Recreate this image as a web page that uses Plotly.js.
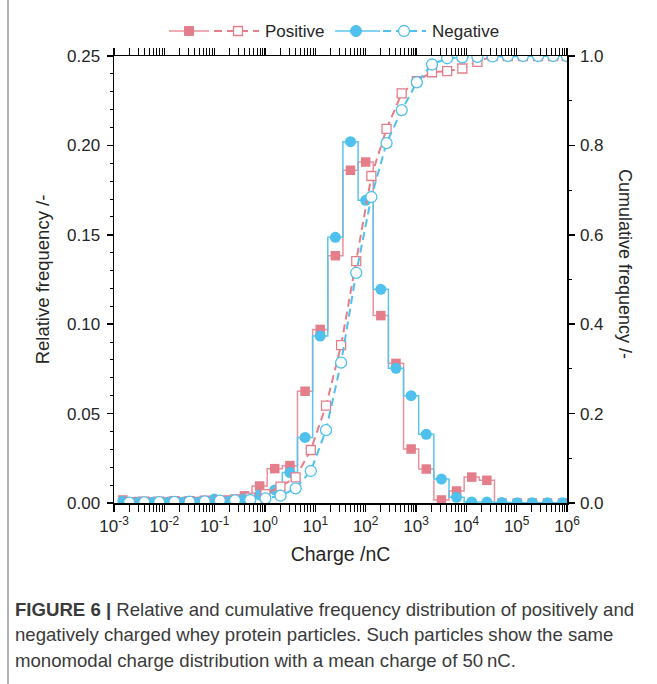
<!DOCTYPE html>
<html><head><meta charset="utf-8">
<script src="https://cdn.plot.ly/plotly-3.0.1.min.js"></script>
<style>html,body{margin:0;padding:0;background:#fff;}#chart{width:657px;height:684px;}</style>
</head><body><div id="chart"></div>
<script>
// Bin centres (charge, nC) for the relative frequency histograms
const charge = [0.0015, 0.0031, 0.0061, 0.0122, 0.0244, 0.0488, 0.0977, 0.195, 0.391, 0.781,
  1.5625, 3.125, 6.25, 12.5, 25, 50, 100, 200, 400, 800,
  1600, 3200, 6400, 12800, 25600, 51200, 102400, 204800, 409600, 819200];
// Positions of the cumulative points (slightly right of the bin centres, as drawn)
const cumCharge = [0.002, 0.004, 0.0079, 0.0159, 0.0317, 0.0635, 0.127, 0.254, 0.508, 1.02,
  2.03, 4.06, 8.13, 16.3, 32.5, 65, 130, 260, 520, 1040,
  2080, 4160, 8320, 16600, 33300, 66600, 133000, 266000, 532000, 990000];
const posRel = [0.0017, 0.0008, 0.0006, 0.0006, 0.0006, 0.0008, 0.0010, 0.0017, 0.0040, 0.0095,
  0.0192, 0.0209, 0.0625, 0.0971, 0.1383, 0.1861, 0.1907, 0.1048, 0.0781, 0.0302,
  0.0190, 0.0017, 0.0067, 0.0145, 0.0127, 0, 0, 0, 0, 0];
const negRel = [0.0010, 0.0005, 0.0005, 0.0005, 0.0005, 0.0005, 0.0022, 0.0010, 0.0024, 0.0045,
  0.0073, 0.0170, 0.0367, 0.0934, 0.1486, 0.2021, 0.1693, 0.1195, 0.0753, 0.0600,
  0.0384, 0.0134, 0.0032, 0.0006, 0.0005, 0.0003, 0.0002, 0.0002, 0.0001, 0.0001];
const posCum = [0.002, 0.003, 0.003, 0.004, 0.004, 0.005, 0.006, 0.008, 0.012, 0.020,
  0.0365, 0.0575, 0.1186, 0.2177, 0.353, 0.541, 0.7315, 0.837, 0.9166, 0.944,
  0.9636, 0.966, 0.972, 0.987, 1.0, 1.0, 1.0, 1.0, 1.0, 1.0];
const negCum = [0.001, 0.0015, 0.002, 0.0025, 0.003, 0.0035, 0.0055, 0.006, 0.0067, 0.0105,
  0.0163, 0.0328, 0.0716, 0.163, 0.314, 0.515, 0.6846, 0.805, 0.879, 0.941,
  0.981, 0.995, 0.997, 0.998, 0.999, 1.0, 1.0, 1.0, 1.0, 1.0];
const xTickVals = [1e-3, 1e-2, 1e-1, 1, 10, 100, 1e3, 1e4, 1e5, 1e6];
const xTickText = ['10<sup>-3</sup>','10<sup>-2</sup>','10<sup>-1</sup>','10<sup>0</sup>','10<sup>1</sup>',
  '10<sup>2</sup>','10<sup>3</sup>','10<sup>4</sup>','10<sup>5</sup>','10<sup>6</sup>'];
const seriesNames = ['Positive', 'Negative'];
const captionLines = [
  '<b>FIGURE 6 |</b> Relative and cumulative frequency distribution of positively and',
  'negatively charged whey protein particles. Such particles show the same',
  'monomodal charge distribution with a mean charge of 50\u2009nC.'
];

const pink = '#E57E8B', pinkLine = '#E9919C';
const blue = '#4FC1EC', blueLine = '#5CC5EE';
const txt = '#262626';
const FONT = 'Liberation Sans, Arial, sans-serif';

// minor ticks on the log axis (2..9 in every decade)
const minorX = [];
for (let d = -3; d < 6; d++) for (let m = 2; m <= 9; m++) minorX.push(m * Math.pow(10, d));

const L = 114, R = 567, T = 56, B = 503;
const px = x => (x - L) / (R - L);
const py = y => (B - y) / (B - T);

const traces = [
  {x: charge, y: posRel, type: 'scatter', mode: 'lines+markers', yaxis: 'y', showlegend: false,
   line: {shape: 'hvh', color: pinkLine, width: 1.5},
   marker: {symbol: 'square', size: 9.5, color: pink}},
  {x: charge, y: negRel, type: 'scatter', mode: 'lines+markers', yaxis: 'y', showlegend: false,
   line: {shape: 'hvh', color: blueLine, width: 1.5},
   marker: {symbol: 'circle', size: 11, color: blue}},
  {x: cumCharge, y: posCum, type: 'scatter', mode: 'lines+markers', yaxis: 'y2', showlegend: false,
   line: {color: pink, width: 2, dash: '8px,5px'},
   marker: {symbol: 'square', size: 9, color: 'white', line: {color: pink, width: 1.3}}},
  {x: cumCharge, y: negCum, type: 'scatter', mode: 'lines+markers', yaxis: 'y2', showlegend: false,
   line: {color: blue, width: 2, dash: '8px,5px'},
   marker: {symbol: 'circle', size: 11, color: 'white', line: {color: blue, width: 1.3}}}
];

const shapes = [];
const annotations = [];
function legendItem(x0, xm1, x1a, x2, xm2, x3, y, color, lineColor, kind, name, tx) {
  shapes.push({type: 'line', xref: 'paper', yref: 'paper', x0: px(x0), x1: px(x1a), y0: py(y), y1: py(y),
    line: {color: lineColor, width: 1.5}});
  shapes.push({type: 'line', xref: 'paper', yref: 'paper', x0: px(x2), x1: px(x3), y0: py(y), y1: py(y),
    line: {color: color, width: 2, dash: '8px,5px'}});
  const h = kind === 'rect' ? 4.5 : 5.5;
  shapes.push({type: kind, xref: 'paper', yref: 'paper', xsizemode: 'pixel', ysizemode: 'pixel',
    xanchor: px(xm1), yanchor: py(y), x0: -h, x1: h, y0: -h, y1: h,
    fillcolor: color, line: {color: color, width: 1}});
  const h2 = kind === 'rect' ? 4.5 : 5.5;
  shapes.push({type: kind, xref: 'paper', yref: 'paper', xsizemode: 'pixel', ysizemode: 'pixel',
    xanchor: px(xm2), yanchor: py(y), x0: -h2, x1: h2, y0: -h2, y1: h2,
    fillcolor: 'white', line: {color: color, width: 1.3}});
  annotations.push({xref: 'paper', yref: 'paper', x: px(tx), y: py(y), xanchor: 'left', yanchor: 'middle',
    text: name, showarrow: false, font: {family: FONT, size: 17, color: txt}});
}
legendItem(169, 189, 209, 214, 238, 259, 31, pink, pinkLine, 'rect', seriesNames[0], 263);
legendItem(335, 356, 380, 383, 404, 426, 31, blue, blueLine, 'circle', seriesNames[1], 430);

// left border line of the figure frame
shapes.push({type: 'line', xref: 'paper', yref: 'paper', x0: px(8), x1: px(8), y0: py(0), y1: py(684),
  line: {color: '#9a9a9a', width: 1.5}});

const capY = [609, 634.5, 660];
captionLines.forEach((t, i) => annotations.push({xref: 'paper', yref: 'paper', x: px(13), y: py(capY[i]),
  xanchor: 'left', yanchor: 'middle', text: t, showarrow: false,
  font: {family: FONT, size: 18.6, color: '#3a3a3a'}}));

annotations.push({xref: 'paper', yref: 'paper', x: px(625), y: py(264), xanchor: 'center', yanchor: 'middle',
  text: 'Cumulative frequency /-', textangle: 90, showarrow: false,
  font: {family: FONT, size: 18, color: txt}});

const layout = {
  width: 657, height: 684,
  margin: {l: L, r: 657 - R, t: T, b: 684 - B, pad: 0},
  paper_bgcolor: '#fff', plot_bgcolor: '#fff',
  showlegend: false,
  font: {family: FONT, color: txt},
  xaxis: {type: 'log', range: [-3, 6], tickmode: 'array', tickvals: xTickVals, ticktext: xTickText,
    ticks: 'outside', ticklen: 7, tickwidth: 1.5, tickcolor: '#000',
    showline: true, linecolor: '#000', linewidth: 1.5, mirror: 'allticks',
    showgrid: false, zeroline: false, tickfont: {size: 17, color: txt},
    minor: {tickmode: 'array', tickvals: minorX, ticks: 'outside', ticklen: 4, tickwidth: 1, tickcolor: '#000', showgrid: false},
    title: {text: 'Charge /nC', font: {size: 19.5, color: txt}, standoff: 12}},
  yaxis: {range: [0, 0.25], dtick: 0.05, tickformat: '.2f',
    ticks: 'outside', ticklen: 6, tickwidth: 1.5, tickcolor: '#000',
    showline: true, linecolor: '#000', linewidth: 1.5, ticklabelstandoff: 3,
    showgrid: false, zeroline: false, tickfont: {size: 17, color: txt},
    minor: {dtick: 0.01, ticks: 'outside', ticklen: 3, tickwidth: 1, tickcolor: '#000', showgrid: false},
    title: {text: 'Relative frequency /-', font: {size: 18.5, color: txt}, standoff: 12}},
  yaxis2: {overlaying: 'y', side: 'right', range: [0, 1], dtick: 0.2, tickformat: '.1f',
    ticks: 'outside', ticklen: 6, tickwidth: 1.5, tickcolor: '#000',
    showline: true, linecolor: '#000', linewidth: 1.5, ticklabelstandoff: 2,
    showgrid: false, zeroline: false, tickfont: {size: 17, color: txt},
    minor: {dtick: 0.1, ticks: 'outside', ticklen: 3, tickwidth: 1, tickcolor: '#000', showgrid: false}},
  shapes: shapes,
  annotations: annotations
};

Plotly.newPlot('chart', traces, layout, {displayModeBar: false, staticPlot: true});
</script>
</body></html>
